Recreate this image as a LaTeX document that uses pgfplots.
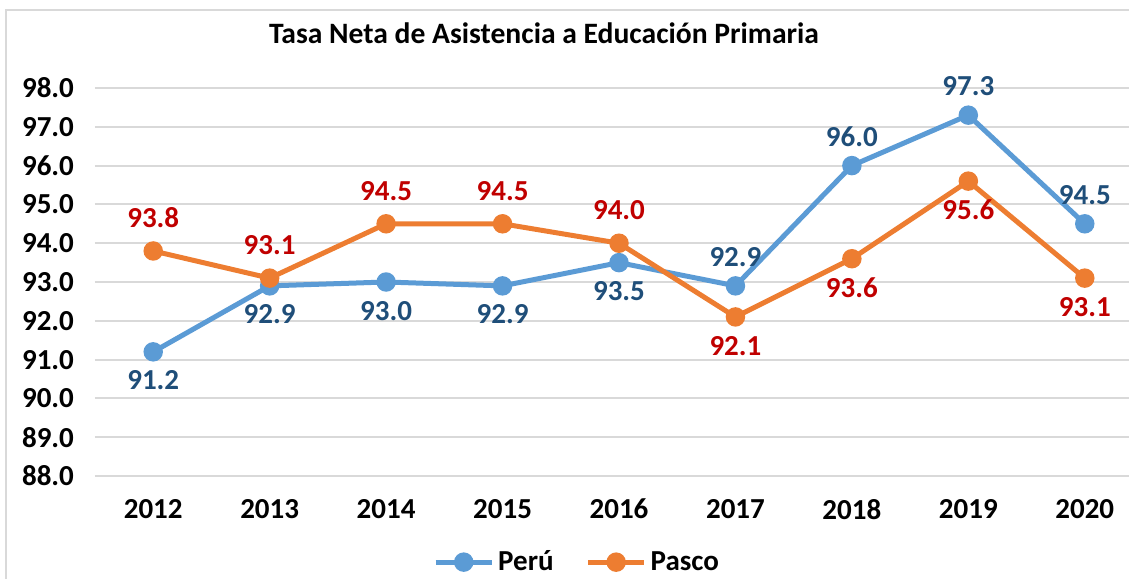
\documentclass[border=0pt]{standalone}
\usepackage{pgfplots}
\pgfplotsset{compat=1.18}
\usepackage{fontspec}
\setmainfont{Carlito}
\definecolor{peru}{HTML}{5B9BD5}
\definecolor{pasco}{HTML}{ED7D31}
\definecolor{perulab}{HTML}{1F4E79}
\definecolor{pascolab}{HTML}{C00000}
\definecolor{gridgray}{HTML}{D9D9D9}
\begin{document}
\begin{tikzpicture}
\clip (0pt,0pt) rectangle (564.5pt,-289pt);
\draw[gridgray, line width=0.9pt] (3pt,-5pt) rectangle (620pt,-340pt);
\node[font=\bfseries\fontsize{14.8}{17}\selectfont] at (272pt,-16.5pt) {Tasa Neta de Asistencia a Educación Primaria};
\begin{axis}[
  at={(47.5pt,-238pt)}, anchor=south west,
  scale only axis, width=524pt, height=194pt,
  xmin=-0.5, xmax=8.5, ymin=88, ymax=98,
  xtick={0,...,8},
  xticklabels={2012,2013,2014,2015,2016,2017,2018,2019,2020},
  ytick={88,89,...,98},
  axis line style={draw=none},
  major tick length=0pt,
  ymajorgrids, grid style={gridgray, line width=1pt},
  clip=false,
  ticklabel style={font=\bfseries\fontsize{14.5}{17}\selectfont},
  yticklabel style={xshift=-7pt},
  xticklabel style={yshift=-8pt},
  /pgf/number format/.cd, fixed, fixed zerofill, precision=1, assume math mode=true,
  /pgfplots/.cd,
  every node near coord/.append style={font=\bfseries\fontsize{14.5}{17}\selectfont},
  legend style={at={(0.461,-0.222)}, anchor=center, draw=none, legend columns=2,
    font=\bfseries\fontsize{14.5}{17}\selectfont, inner sep=1pt,
    /tikz/every even column/.append style={column sep=14pt}},
  legend image code/.code={
    \draw[#1, mark=none] (0pt,0pt) -- (28pt,0pt);
    \draw[#1, only marks] plot coordinates {(14pt,0pt)};
  },
]
\addplot[peru, line width=2.5pt, mark=*, mark size=3.6pt] coordinates {
(0,91.2) (1,92.9) (2,93.0) (3,92.9) (4,93.5) (5,92.9) (6,96.0) (7,97.3) (8,94.5)};
\addlegendentry{Perú}
\addplot[pasco, line width=2.5pt, mark=*, mark size=3.6pt] coordinates {
(0,93.8) (1,93.1) (2,94.5) (3,94.5) (4,94.0) (5,92.1) (6,93.6) (7,95.6) (8,93.1)};
\addlegendentry{Pasco}
% labels
\addplot[draw=none, mark=none, nodes near coords, every node near coord/.append style={text=perulab, anchor=north, yshift=-6pt}, forget plot] coordinates {
(0,91.2) (1,92.9) (2,93.0) (3,92.9) (4,93.5)};
\addplot[draw=none, mark=none, nodes near coords, every node near coord/.append style={text=perulab, anchor=south, yshift=6pt}, forget plot] coordinates {
(5,92.9) (6,96.0) (7,97.3) (8,94.5)};
\addplot[draw=none, mark=none, nodes near coords, every node near coord/.append style={text=pascolab, anchor=south, yshift=8pt}, forget plot] coordinates {
(0,93.8) (1,93.1) (2,94.5) (3,94.5) (4,94.0)};
\addplot[draw=none, mark=none, nodes near coords, every node near coord/.append style={text=pascolab, anchor=north, yshift=-6pt}, forget plot] coordinates {
(5,92.1) (6,93.6) (7,95.6) (8,93.1)};
\end{axis}
\end{tikzpicture}
\end{document}
